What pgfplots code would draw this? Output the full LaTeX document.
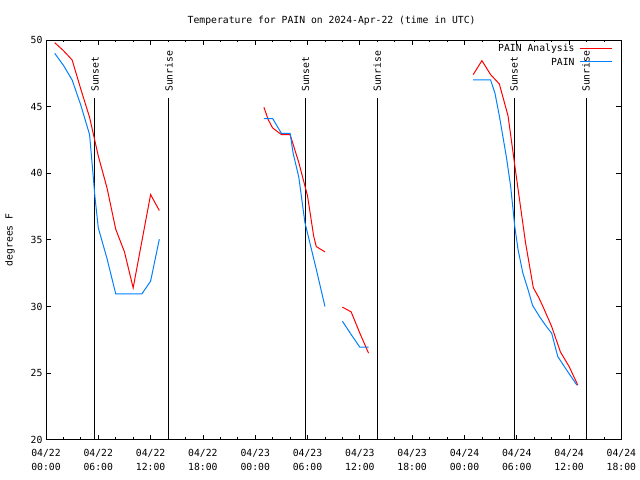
\documentclass[border=0pt]{standalone}
\usepackage{fontspec}
\setmainfont{DejaVu Sans Mono}
\usepackage{pgfplots}
\pgfplotsset{compat=1.18}
\definecolor{pblue}{RGB}{0,128,255}
\begin{document}
\begin{tikzpicture}[font=\fontsize{9.8}{14}\selectfont]
\useasboundingbox (-46bp,-40bp) rectangle (594.3bp,440bp);
\begin{axis}[
  at={(0,0)}, anchor=south west,
  scale only axis, width=575.7bp, height=400bp,
  xmin=0, xmax=66, ymin=20, ymax=50,
  xtick={0,6,...,66},
  xticklabels={{04/22\\00:00},{04/22\\06:00},{04/22\\12:00},{04/22\\18:00},{04/23\\00:00},{04/23\\06:00},{04/23\\12:00},{04/23\\18:00},{04/24\\00:00},{04/24\\06:00},{04/24\\12:00},{04/24\\18:00}},
  minor x tick num=2,
  ytick={20,25,...,50},
  tick align=inside,
  xtick pos=both, ytick pos=both,
  major tick length=5bp, minor tick length=2.5bp,
  axis line style={black, line width=0.8bp},
  every tick/.style={black, line width=0.8bp},
  xticklabel style={align=center, yshift=-6bp},
  /pgf/number format/assume math mode=true,
  every axis y label/.style={at={(axis description cs:-0.0625,0.5)}, rotate=90, anchor=center},
  ylabel={degrees F},
  clip=false,
  unbounded coords=jump,
]
% sunset / sunrise lines
\addplot[black, line width=1bp] coordinates {(5.62,20) (5.62,45.65)};
\addplot[black, line width=1bp] coordinates {(14.1,20) (14.1,45.65)};
\addplot[black, line width=1bp] coordinates {(29.77,20) (29.77,45.65)};
\addplot[black, line width=1bp] coordinates {(37.98,20) (37.98,45.65)};
\addplot[black, line width=1bp] coordinates {(53.69,20) (53.69,45.65)};
\addplot[black, line width=1bp] coordinates {(61.94,20) (61.94,45.65)};
\node[rotate=90, anchor=west, inner sep=0pt] at (axis cs:5.62,46.1) {Sunset};
\node[rotate=90, anchor=west, inner sep=0pt] at (axis cs:14.1,46.1) {Sunrise};
\node[rotate=90, anchor=west, inner sep=0pt] at (axis cs:29.77,46.1) {Sunset};
\node[rotate=90, anchor=west, inner sep=0pt] at (axis cs:37.98,46.1) {Sunrise};
\node[rotate=90, anchor=west, inner sep=0pt] at (axis cs:53.69,46.1) {Sunset};
\node[rotate=90, anchor=west, inner sep=0pt] at (axis cs:61.94,46.1) {Sunrise};
% PAIN Analysis
\addplot[red, line width=1bp] coordinates {
(1,49.8) (2,49.2) (3,48.5) (4,46.3) (5,44.2) (6,41.3) (7,38.9) (8,35.8) (9,34.1) (10,31.4) (11,34.9) (12,38.4) (13,37.2)
(19,nan)
(25,44.95) (25.5,44.0) (26,43.4) (27,42.9) (28,42.9) (29,40.8) (30,38.3) (30.7,35.3) (31,34.5) (32,34.1)
(33,nan)
(34,29.95) (35,29.6) (36,28.0) (37,26.5)
(43,nan)
(49,47.4) (50,48.45) (51,47.4) (52,46.7) (53,44.3) (54,39.5) (55,34.8) (55.9,31.4) (56.5,30.7) (57,30.0) (58,28.5) (59,26.6) (60,25.5) (61,24.1)
};
% PAIN
\addplot[pblue, line width=1bp] coordinates {
(1,49.0) (2,48.1) (3,47.0) (4,45.1) (5,42.9) (5.35,40.3) (5.62,38.2) (6,35.9) (7,33.6) (8,30.95) (11,30.95) (12,31.9) (13,35.05)
(19,nan)
(25,44.1) (26,44.1) (27,43.0) (28,43.0) (28.35,41.5) (29,39.7) (29.7,36.3) (30,35.5) (31,32.8) (32,30.0)
(33,nan)
(34,28.9) (35,27.9) (36,26.95) (37,26.95)
(43,nan)
(49,47.0) (51,47.0) (51.5,46.0) (52,44.3) (52.8,41.25) (53.3,39.0) (53.77,36.0) (54.15,34.25) (54.7,32.5) (55.3,31.25) (55.8,30.1) (56.6,29.25) (57.4,28.5) (58,28.0) (58.7,26.25) (59.7,25.25) (60.9,24.1)
};
% legend
\draw[red, line width=1bp] (rel axis cs:0.9276,0.9775) -- (rel axis cs:0.9832,0.9775);
\draw[pblue, line width=1bp] (rel axis cs:0.9276,0.945) -- (rel axis cs:0.9832,0.945);
\node[anchor=east, inner sep=0pt] at (rel axis cs:0.919,0.9775) {PAIN Analysis};
\node[anchor=east, inner sep=0pt] at (rel axis cs:0.919,0.945) {PAIN};
\node[anchor=base] at (rel axis cs:0.5,1) [xshift=-2bp, yshift=16bp] {Temperature for PAIN on 2024-Apr-22 (time in UTC)};
\end{axis}
\end{tikzpicture}
\end{document}
